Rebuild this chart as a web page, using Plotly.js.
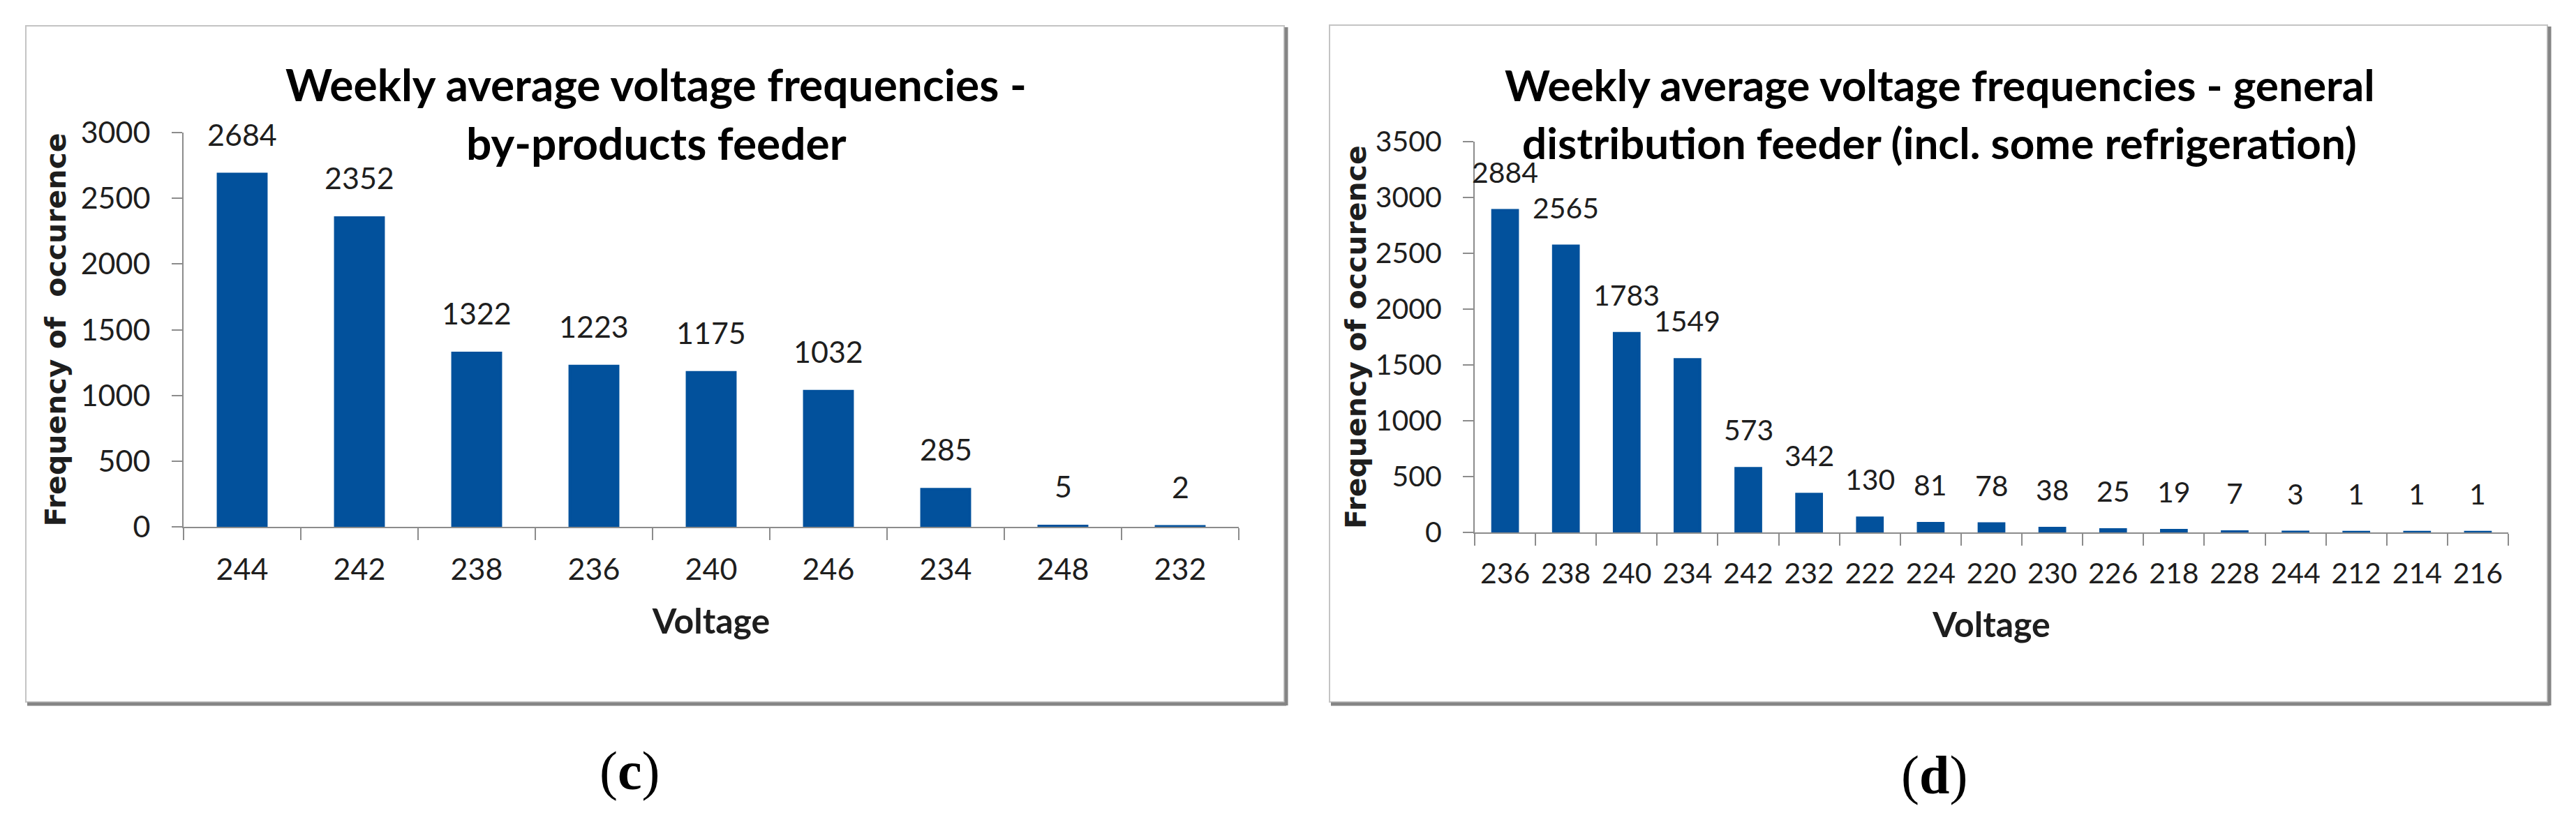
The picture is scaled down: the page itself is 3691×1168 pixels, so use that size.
<!DOCTYPE html>
<html>
<head>
<meta charset="utf-8">
<script src="https://cdn.plot.ly/plotly-3.0.1.min.js"></script>
<style>html,body{margin:0;padding:0;background:#fff;}#chart{width:3691px;height:1168px;}</style>
</head>
<body>
<div id="chart"></div>
<script>
// ---- data ----
const voltsC = ['244','242','238','236','240','246','234','248','232'];
const freqC  = [2684, 2352, 1322, 1223, 1175, 1032, 285, 5, 2];
const voltsD = ['236','238','240','234','242','232','222','224','220','230','226','218','228','244','212','214','216'];
const freqD  = [2884, 2565, 1783, 1549, 573, 342, 130, 81, 78, 38, 25, 19, 7, 3, 1, 1, 1];
const titleC = ['Weekly average voltage frequencies -', 'by-products feeder'];
const titleD = ['Weekly average voltage frequencies - general', 'distribution feeder (incl. some refrigeration)'];
const yTitleC = 'Frequency of\u00a0 occurence';
const yTitleD = 'Frequency of occurence';
const xTitle = 'Voltage';
const capC = '(<b>c</b>)', capD = '(<b>d</b>)';

// ---- layout helpers ----
const W = 3691, H = 1168;
const px = v => v / W, py = v => 1 - v / H;
const BLUE = '#02519c', GRID = '#8c8c8c', TXT = '#1e1e1e';

const barC = {type:'bar', x: voltsC, y: freqC, xaxis:'x', yaxis:'y',
  marker:{color:BLUE, line:{color:BLUE, width:4}}, hoverinfo:'x+y', showlegend:false};
const barD = {type:'bar', x: voltsD, y: freqD, xaxis:'x2', yaxis:'y2',
  marker:{color:BLUE, line:{color:BLUE, width:4}}, hoverinfo:'x+y', showlegend:false};

function xAxis(domain, anchor, size, cats){
  return {domain, anchor, type:'category', categoryorder:'array', categoryarray:cats,
    range:[-0.5, cats.length-0.5], tickson:'boundaries', ticks:'outside', ticklen:17,
    tickwidth:2, tickcolor:GRID, showline:true, linecolor:GRID, linewidth:2, showgrid:false,
    zeroline:false, fixedrange:true, tickangle:0, tickfont:{family:'Lato', size, color:TXT}, ticklabelstandoff:22,
    title:{text:xTitle, font:{family:'Lato', size:50, color:TXT, weight:'bold'}, standoff:34}};
}
function yAxis(domain, anchor, range, size, title, standoff){
  return {domain, anchor, range, dtick:500, tick0:0, ticks:'outside', ticklen:15, tickwidth:2,
    tickcolor:GRID, showline:true, linecolor:GRID, linewidth:2, showgrid:false, zeroline:false,
    fixedrange:true, tickfont:{family:'Lato', size, color:TXT}, ticklabelstandoff:22,
    title:{text:title, font:{family:'DejaVu Sans', size:41, color:TXT, weight:'bold'}, standoff}};
}

const ann = [];
freqC.forEach((v,i)=>ann.push({xref:'x', yref:'y', x:i, y:v, text:String(v), showarrow:false,
  yanchor:'bottom', yshift:30, font:{family:'Lato', size:43, color:TXT}}));
freqD.forEach((v,i)=>ann.push({xref:'x2', yref:'y2', x:i, y:v, text:String(v), showarrow:false,
  yanchor:'bottom', yshift:29, font:{family:'Lato', size:41, color:TXT}}));
function titleAnn(lines, cx, size){
  const ys = [121, 204];
  lines.forEach((t,i)=>ann.push({xref:'paper', yref:'paper', x:px(cx), y:py(ys[i]), text:t, showarrow:false,
    xanchor:'center', yanchor:'middle', font:{family:'Lato', size, color:'#000', weight:'bold'}}));
}
titleAnn(titleC, 940, 64);
titleAnn(titleD, 2779, 62);
ann.push({xref:'paper', yref:'paper', x:px(902), y:py(1104), text:capC, showarrow:false, xanchor:'center', yanchor:'middle',
  font:{family:'Liberation Serif', size:78, color:'#000'}});
ann.push({xref:'paper', yref:'paper', x:px(2771), y:py(1110), text:capD, showarrow:false, xanchor:'center', yanchor:'middle',
  font:{family:'Liberation Serif', size:78, color:'#000'}});

function box(l,t,r,b){
  return [
    {type:'rect', xref:'paper', yref:'paper', x0:px(l), x1:px(r), y0:py(b), y1:py(t), line:{color:'#c4c4c4', width:2}, layer:'below'},
    {type:'line', xref:'paper', yref:'paper', x0:px(l+2), x1:px(r+3), y0:py(b+3), y1:py(b+3), line:{color:'#858585', width:5}},
    {type:'line', xref:'paper', yref:'paper', x0:px(r+3), x1:px(r+3), y0:py(t+2), y1:py(b+5), line:{color:'#858585', width:5}}
  ];
}

const layout = {
  width:W, height:H, margin:{l:0,r:0,t:0,b:0}, paper_bgcolor:'#fff', plot_bgcolor:'#fff',
  bargap:0.59, showlegend:false,
  xaxis: xAxis([px(263), px(1775)], 'y', 43, voltsC),
  yaxis: yAxis([py(755), py(190)], 'x', [0,3000], 43, yTitleC, 8),
  xaxis2: xAxis([px(2113), px(3594)], 'y2', 41, voltsD),
  yaxis2: yAxis([py(763), py(203)], 'x2', [0,3500], 41, yTitleD, 0),
  annotations: ann,
  shapes: [...box(37,37,1840,1006), ...box(1905,36,3650,1006)]
};
Plotly.newPlot('chart', [barC, barD], layout, {staticPlot:true, displayModeBar:false});
</script>
</body>
</html>
